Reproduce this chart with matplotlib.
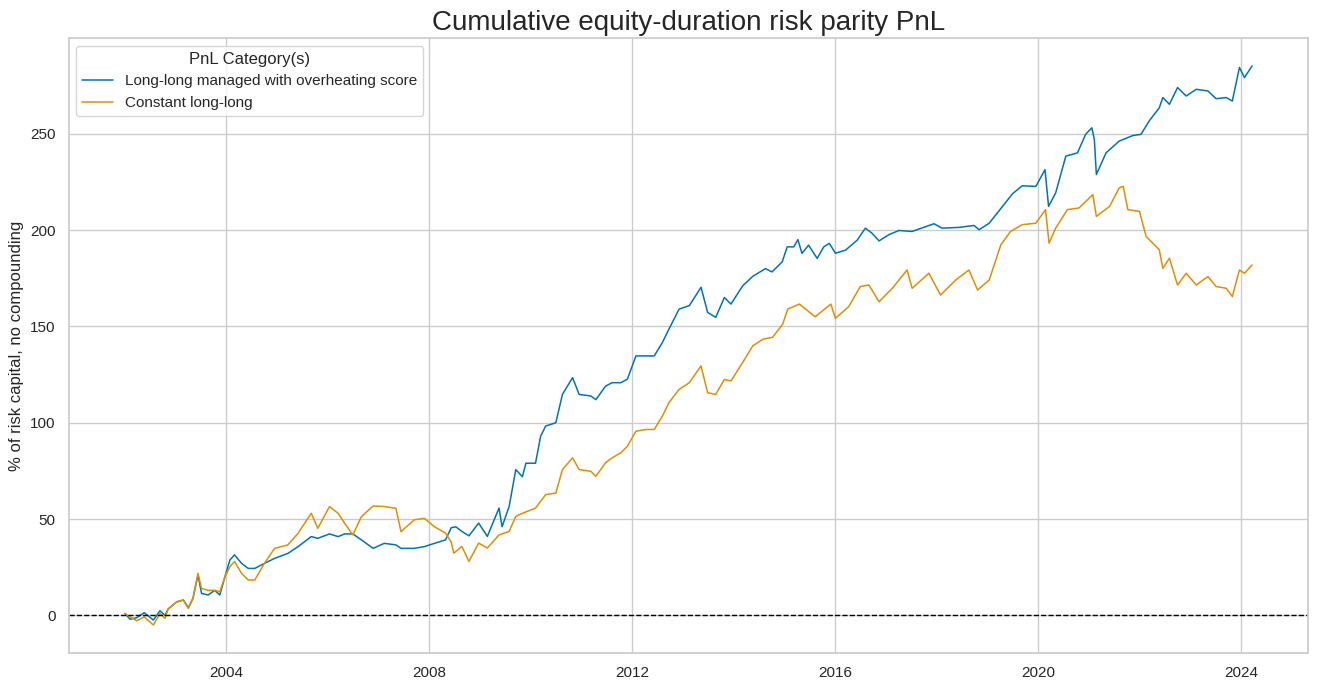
import numpy as np
import pandas as pd
import seaborn as sns
from matplotlib import pyplot as plt

# values (decimal year, % of risk capital)
blue_t = [2002.0, 2002.1, 2002.23, 2002.38, 2002.56, 2002.69, 2002.79, 2002.85, 2003.02, 2003.15,
          2003.25, 2003.34, 2003.44, 2003.51, 2003.64, 2003.77, 2003.87, 2003.97, 2004.07, 2004.16,
          2004.3, 2004.43, 2004.56, 2004.75, 2004.95, 2005.21, 2005.41, 2005.67, 2005.8, 2006.03,
          2006.2, 2006.33, 2006.49, 2006.66, 2006.89, 2007.11, 2007.34, 2007.44, 2007.7, 2007.9,
          2008.1, 2008.32, 2008.43, 2008.52, 2008.64, 2008.78, 2008.97, 2009.14, 2009.37, 2009.43,
          2009.57, 2009.7, 2009.83, 2009.9, 2010.09, 2010.19, 2010.29, 2010.49, 2010.62, 2010.82,
          2010.95, 2011.18, 2011.28, 2011.47, 2011.6, 2011.77, 2011.9, 2012.07, 2012.26, 2012.43,
          2012.59, 2012.72, 2012.92, 2013.12, 2013.35, 2013.48, 2013.64, 2013.81, 2013.94, 2014.17,
          2014.37, 2014.62, 2014.75, 2014.95, 2015.05, 2015.18, 2015.26, 2015.34, 2015.47, 2015.64,
          2015.77, 2015.88, 2016.0, 2016.2, 2016.43, 2016.59, 2016.72, 2016.86, 2017.05, 2017.25,
          2017.51, 2017.94, 2018.1, 2018.43, 2018.73, 2018.83, 2019.03, 2019.29, 2019.49, 2019.68,
          2019.95, 2020.13, 2020.2, 2020.34, 2020.54, 2020.77, 2020.93, 2021.05, 2021.1, 2021.14,
          2021.33, 2021.59, 2021.86, 2022.02, 2022.18, 2022.38, 2022.45, 2022.58, 2022.74, 2022.91,
          2023.11, 2023.34, 2023.5, 2023.7, 2023.82, 2023.96, 2024.06, 2024.21]
blue_v = [1, -2, -1.2, 1.4, -2.4, 2.4, 0, 3.3, 7, 8,
          4, 8.8, 21, 11.4, 10.6, 13, 10.6, 20, 28.8, 31.4,
          27, 24.4, 24.4, 27, 29.6, 32.2, 35.7, 40.9, 40, 42.3,
          40.9, 42.3, 42.3, 39.2, 34.8, 37.4, 36.6, 34.8, 34.8, 35.7,
          37.4, 39.2, 45.5, 46, 43.6, 41.3, 47.9, 41, 55.7, 46,
          56.6, 75.7, 72, 79, 79, 93, 98.3, 100, 114.7, 123.4,
          114.7, 113.9, 112, 119, 120.8, 120.8, 122.6, 134.7, 134.7, 134.7,
          141.6, 148.6, 159, 160.8, 170.3, 157.3, 154.7, 165, 161.6, 171,
          176, 180, 178.3, 183.5, 191.3, 191.3, 195.1, 187.9, 192.2, 185.3,
          191.3, 193.1, 188, 189.6, 194.8, 201, 198.4, 194.4, 197.6, 199.8,
          199.3, 203.3, 201, 201.4, 202.4, 200.2, 203.6, 212.3, 218.9, 223,
          222.7, 231.4, 212.3, 219.3, 238.4, 240.1, 249.7, 253.1, 247, 228.8,
          240.1, 246.2, 249.1, 249.7, 256.6, 263.5, 268.8, 265.3, 274, 269.6,
          273.1, 272.2, 268.2, 268.8, 267, 284.4, 279.2, 285.2]

orange_t = [2002.0, 2002.1, 2002.23, 2002.38, 2002.56, 2002.69, 2002.79, 2002.85, 2003.02, 2003.15,
            2003.25, 2003.34, 2003.44, 2003.51, 2003.64, 2003.77, 2003.87, 2003.97, 2004.07, 2004.16,
            2004.3, 2004.43, 2004.56, 2004.75, 2004.95, 2005.21, 2005.41, 2005.67, 2005.8, 2006.03,
            2006.2, 2006.33, 2006.49, 2006.66, 2006.89, 2007.11, 2007.34, 2007.44, 2007.7, 2007.9,
            2008.1, 2008.32, 2008.43, 2008.48, 2008.64, 2008.78, 2008.97, 2009.14, 2009.37, 2009.57,
            2009.7, 2009.83, 2010.09, 2010.29, 2010.49, 2010.62, 2010.82, 2010.95, 2011.18, 2011.28,
            2011.47, 2011.6, 2011.77, 2011.9, 2012.07, 2012.26, 2012.43, 2012.59, 2012.72, 2012.92,
            2013.12, 2013.35, 2013.48, 2013.64, 2013.81, 2013.94, 2014.17, 2014.37, 2014.57, 2014.76,
            2014.96, 2015.06, 2015.29, 2015.6, 2015.91, 2016.0, 2016.26, 2016.49, 2016.66, 2016.86,
            2017.12, 2017.41, 2017.51, 2017.84, 2018.07, 2018.37, 2018.63, 2018.8, 2019.03, 2019.26,
            2019.45, 2019.68, 2019.95, 2020.14, 2020.21, 2020.34, 2020.57, 2020.8, 2021.07, 2021.14,
            2021.4, 2021.59, 2021.67, 2021.76, 2021.99, 2022.12, 2022.38, 2022.45, 2022.58, 2022.74,
            2022.91, 2023.11, 2023.34, 2023.5, 2023.7, 2023.82, 2023.96, 2024.06, 2024.21]
orange_v = [1, -0.7, -2.8, -0.7, -5, 1, -1.5, 3.3, 7, 8,
            3.6, 8.8, 21.8, 14, 13, 13, 12.3, 20, 25.3, 28,
            21.8, 18.4, 18.4, 27, 34.8, 36.6, 42.6, 53, 45.2, 56.5,
            53, 47.8, 41.8, 51.3, 56.8, 56.5, 55.6, 43.5, 49.6, 50.4,
            46, 42.7, 38, 32.3, 35.8, 28, 37.5, 35, 41.8, 43.6,
            51.4, 53, 55.7, 62.7, 63.5, 75.7, 81.8, 75.7, 74.8, 72.2,
            79.2, 81.8, 84.4, 87.8, 95.6, 96.5, 96.5, 103.4, 110.4, 117.3,
            120.8, 129.5, 115.6, 114.7, 122.5, 121.7, 131.2, 139.9, 143.4, 144.3,
            151.2, 159, 161.6, 155, 161.6, 154.2, 160.2, 170.7, 171.5, 162.8,
            169.8, 179.3, 169.8, 177.6, 166.3, 174.1, 179.3, 168.9, 174.1, 192.4,
            199.3, 202.8, 203.6, 210.6, 193.2, 201, 210.6, 211.5, 218.4, 207.1,
            212.3, 221.9, 222.7, 210.6, 209.7, 196.7, 189.8, 180.2, 185.4, 171.5,
            177.6, 171.5, 175.9, 170.7, 169.8, 165.5, 179.3, 177.6, 181.9]

labels = ["Long-long managed with overheating score", "Constant long-long"]


def to_dates(t):
    t = np.asarray(t)
    yr = np.floor(t).astype(int)
    return pd.to_datetime([f"{y}-01-01" for y in yr]) + pd.to_timedelta((t - yr) * 365.25, unit="D")


sns.set_theme(style="whitegrid")
plt.rcParams['font.family'] = ['Liberation Sans', 'DejaVu Sans']
colors = sns.color_palette("colorblind")

fig = plt.figure(figsize=(13.19, 6.91), dpi=100)
ax = fig.add_axes([0.052, 0.055, 0.94, 0.89])
ax.plot(to_dates(blue_t), blue_v, color=colors[0], lw=1.1, label=labels[0])
ax.plot(to_dates(orange_t), orange_v, color=colors[1], lw=1.1, label=labels[1])
ax.axhline(0, color="black", ls="--", lw=1)

ax.set_title("Cumulative equity-duration risk parity PnL", fontsize=20)
ax.set_ylabel("% of risk capital, no compounding", fontsize=12)
ax.set_xlabel("")
ax.tick_params(labelsize=11)
ax.legend(title="PnL Category(s)", loc="upper left", fontsize=11, title_fontsize=12)

plt.savefig("out.png")
plt.close()
